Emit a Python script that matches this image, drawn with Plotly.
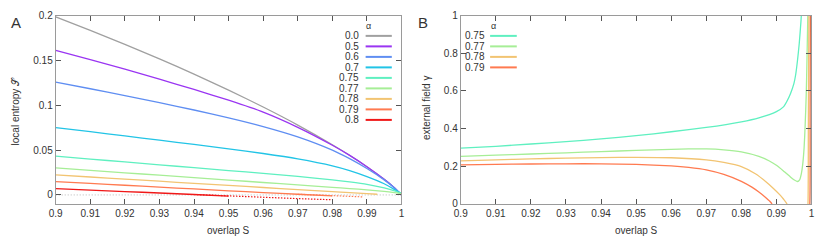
import plotly.graph_objects as go

W, H = 830, 243

# ---------------- Panel A data: local entropy vs overlap S ----------------
A_ALPHAS = ["0.0", "0.5", "0.6", "0.7", "0.75", "0.77", "0.78", "0.79", "0.8"]
A_COLORS = ["#a0a0a0", "#9a35f2", "#5f8ef2", "#22c4e6", "#5ff0c0",
            "#a6ee96", "#f2c472", "#ff7a50", "#f01818"]

S_FULL = [0.90, 0.91, 0.92, 0.93, 0.94, 0.95, 0.96, 0.97, 0.98, 0.985, 0.99, 0.995, 0.998, 1.0]
A_S = [S_FULL, S_FULL, S_FULL, S_FULL, S_FULL, S_FULL,
       [0.90, 0.91, 0.92, 0.93, 0.94, 0.95, 0.96, 0.97, 0.98, 0.985, 0.99, 0.993],
       [0.90, 0.91, 0.92, 0.93, 0.94, 0.95, 0.96, 0.97, 0.98, 0.985, 0.989],
       [0.90, 0.91, 0.92, 0.93, 0.94, 0.95, 0.96, 0.97, 0.98]]
A_V = [
    [0.1985, 0.1835, 0.1679, 0.1517, 0.1347, 0.1169, 0.0980, 0.0779, 0.0560, 0.0442, 0.0315, 0.0175, 0.0079, 0.0],
    [0.1613, 0.1509, 0.1402, 0.1291, 0.1176, 0.1056, 0.0923, 0.0754, 0.0554, 0.0441, 0.0315, 0.0175, 0.0079, 0.0],
    [0.1258, 0.1184, 0.1108, 0.1029, 0.0947, 0.0860, 0.0763, 0.0648, 0.0500, 0.0405, 0.0295, 0.0168, 0.0077, 0.0],
    [0.0751, 0.0705, 0.0658, 0.0611, 0.0563, 0.0514, 0.0462, 0.0402, 0.0325, 0.0272, 0.0205, 0.0125, 0.0060, 0.0015],
    [0.0432, 0.0400, 0.0368, 0.0336, 0.0304, 0.0272, 0.0240, 0.0206, 0.0168, 0.0145, 0.0118, 0.0078, 0.0045, 0.0015],
    [0.0301, 0.0274, 0.0247, 0.0220, 0.0193, 0.0166, 0.0139, 0.0112, 0.0085, 0.0071, 0.0057, 0.0040, 0.0026, 0.0015],
    [0.0223, 0.0200, 0.0176, 0.0153, 0.0129, 0.0106, 0.0083, 0.0060, 0.0037, 0.0025, 0.0014, 0.0008],
    [0.0149, 0.0128, 0.0108, 0.0087, 0.0067, 0.0046, 0.0027, 0.0008, -0.0010, -0.0017, -0.0022],
    [0.0070, 0.0054, 0.0038, 0.0022, 0.0005, -0.0013, -0.0027, -0.0041, -0.0054],
]

# ---------------- Panel B data: external field gamma vs overlap S ----------------
B_ALPHAS = ["0.75", "0.77", "0.78", "0.79"]
B_COLORS = ["#5ff0c0", "#a6ee96", "#f2c472", "#ff7a50"]
B_S = [
    [0.90, 0.91, 0.92, 0.93, 0.94, 0.95, 0.96, 0.97, 0.98, 0.985, 0.99, 0.992, 0.993, 0.994,
     0.995, 0.9955, 0.996, 0.9965, 0.997, 0.9973],
    [0.90, 0.91, 0.92, 0.93, 0.94, 0.95, 0.96, 0.965, 0.97, 0.975, 0.98, 0.985, 0.988, 0.99,
     0.992, 0.994, 0.995, 0.996, 0.9966, 0.9971, 0.9975, 0.9979, 0.9982, 0.9985, 0.9987, 0.9989, 0.999],
    [0.90, 0.91, 0.92, 0.93, 0.94, 0.95, 0.96, 0.97, 0.975, 0.98, 0.984, 0.987, 0.989, 0.991,
     0.992, 0.993, 0.995, 0.998, 0.9990, 0.9991, 0.9992, 0.9993],
    [0.90, 0.91, 0.92, 0.93, 0.94, 0.95, 0.96, 0.965, 0.97, 0.975, 0.98, 0.983, 0.985, 0.987,
     0.988, 0.9887, 0.990, 0.998, 0.9995, 0.9996, 0.9997],
]
B_G = [
    [0.296, 0.306, 0.318, 0.331, 0.345, 0.362, 0.383, 0.406, 0.436, 0.457, 0.490, 0.515, 0.545, 0.585,
     0.640, 0.687, 0.760, 0.850, 0.970, 1.06],
    [0.252, 0.259, 0.265, 0.271, 0.278, 0.284, 0.290, 0.292, 0.292, 0.287, 0.276, 0.252, 0.228, 0.205,
     0.175, 0.143, 0.128, 0.119, 0.128, 0.160, 0.210, 0.300, 0.420, 0.580, 0.750, 0.950, 1.05],
    [0.229, 0.234, 0.239, 0.243, 0.246, 0.247, 0.245, 0.234, 0.220, 0.198, 0.160, 0.118, 0.085, 0.048,
     0.026, 0.0, -0.3, -0.3, 0.0, 0.4, 0.8, 1.1],
    [0.207, 0.210, 0.212, 0.213, 0.213, 0.210, 0.202, 0.194, 0.181, 0.157, 0.120, 0.089, 0.063, 0.033,
     0.016, 0.0, -0.3, -0.3, 0.0, 0.5, 1.1],
]

X_TICKS = [0.90, 0.91, 0.92, 0.93, 0.94, 0.95, 0.96, 0.97, 0.98, 0.99, 1.0]
X_TICKTEXT = ["0.9", "0.91", "0.92", "0.93", "0.94", "0.95", "0.96", "0.97", "0.98", "0.99", "1"]
A_YTICKS = [0, 0.05, 0.1, 0.15, 0.2]
A_YTEXT = ["0", "0.05", "0.1", "0.15", "0.2"]
B_YTICKS = [0, 0.2, 0.4, 0.6, 0.8, 1.0]
B_YTEXT = ["0", "0.2", "0.4", "0.6", "0.8", "1"]

FONT = "Liberation Sans, Arial, sans-serif"
TXT = "#333333"
FRAME = "#9a9a9a"


def px(x):
    return x / W


def py(y):
    return 1 - y / H


fig = go.Figure()

# zero reference line in panel A
fig.add_trace(go.Scatter(x=[X_TICKS[0], X_TICKS[-1]], y=[0, 0], mode="lines",
                         line=dict(color="#b8b8b8", width=1, dash="1px,2px"),
                         xaxis="x", yaxis="y", showlegend=False, hoverinfo="skip"))

for s, v, c in zip(A_S, A_V, A_COLORS):
    neg = [i for i, val in enumerate(v) if val < 0]
    if neg:
        k = neg[0]
        solid_s, solid_v = s[:k + 1], v[:k + 1]
        dot_s, dot_v = s[k - 1:], v[k - 1:]
    else:
        solid_s, solid_v = s, v
        dot_s, dot_v = [], []
    fig.add_trace(go.Scatter(x=solid_s, y=solid_v, mode="lines",
                             line=dict(color=c, width=1.3, shape="spline", smoothing=0.6),
                             xaxis="x", yaxis="y", showlegend=False))
    if dot_s:
        fig.add_trace(go.Scatter(x=dot_s, y=dot_v, mode="lines",
                                 line=dict(color=c, width=1.2, dash="1.5px,1.5px"),
                                 xaxis="x", yaxis="y", showlegend=False))

for s, g, c in zip(B_S, B_G, B_COLORS):
    fig.add_trace(go.Scatter(x=s, y=g, mode="lines",
                             line=dict(color=c, width=1.3, shape="spline", smoothing=0.5),
                             xaxis="x2", yaxis="y2", showlegend=False))

# dark right border line in panel B
fig.add_trace(go.Scatter(x=[1.0, 1.0], y=[B_YTICKS[0], B_YTICKS[-1]], mode="lines",
                         line=dict(color="#222222", width=1.2),
                         xaxis="x2", yaxis="y2", showlegend=False, hoverinfo="skip"))

axis_common = dict(showline=True, linecolor=FRAME, linewidth=1, mirror="allticks",
                   ticks="inside", ticklen=5, tickcolor="#555555", tickwidth=1,
                   showgrid=False, zeroline=False,
                   tickfont=dict(family=FONT, size=10, color=TXT))

ydom = [1 - 207.3 / H, 1 - 10 / H]
fig.update_layout(
    width=W, height=H,
    margin=dict(l=0, r=0, t=0, b=0),
    paper_bgcolor="white", plot_bgcolor="white",
    showlegend=False,
    xaxis=dict(domain=[49.3 / W, 399.3 / W], range=[0.9, 1.0], anchor="y",
               tickvals=X_TICKS, ticktext=X_TICKTEXT, **axis_common),
    yaxis=dict(domain=ydom, range=[-0.01, 0.2], anchor="x",
               tickvals=A_YTICKS, ticktext=A_YTEXT, **axis_common),
    xaxis2=dict(domain=[459.3 / W, 814.3 / W], range=[0.9, 1.0], anchor="y2",
                tickvals=X_TICKS, ticktext=X_TICKTEXT, **axis_common),
    yaxis2=dict(domain=ydom, range=[0, 1.0], anchor="x2",
                tickvals=B_YTICKS, ticktext=B_YTEXT, **axis_common),
)

ann = []
shapes = []


def text(x, y, t, size=10, xanchor="center", angle=0):
    ann.append(dict(x=px(x), y=py(y), xref="paper", yref="paper", text=t, showarrow=False,
                    xanchor=xanchor, yanchor="middle", textangle=angle,
                    font=dict(family=FONT, size=size, color=TXT)))


text(9, 17, "A", size=15)
text(421, 17, "B", size=15)
text(224.3, 235, "overlap S")
text(636.8, 235, "overlap S")
text(8.5, 110, "local entropy 𝒮", angle=-90)
text(424, 107, "external field γ", angle=-90)

# legend A
text(366, 21, "α", size=9)
for i, (lab, c) in enumerate(zip(A_ALPHAS, A_COLORS)):
    y = 31.3 + i * 11.0
    text(358.5, y, lab, xanchor="right")
    shapes.append(dict(type="line", xref="paper", yref="paper", x0=px(363), x1=px(389.5),
                       y0=py(y), y1=py(y), line=dict(color=c, width=2)))

# legend B
text(492, 21, "α", size=9)
for i, (lab, c) in enumerate(zip(B_ALPHAS, B_COLORS)):
    y = 31.3 + i * 11.0
    text(486, y, lab, xanchor="right")
    shapes.append(dict(type="line", xref="paper", yref="paper", x0=px(489), x1=px(516),
                       y0=py(y), y1=py(y), line=dict(color=c, width=2)))

fig.update_layout(annotations=ann, shapes=shapes)
fig.write_html("out.html", config={"displayModeBar": False},
               post_script="document.body.style.margin='0px';document.body.style.overflow='hidden';")
